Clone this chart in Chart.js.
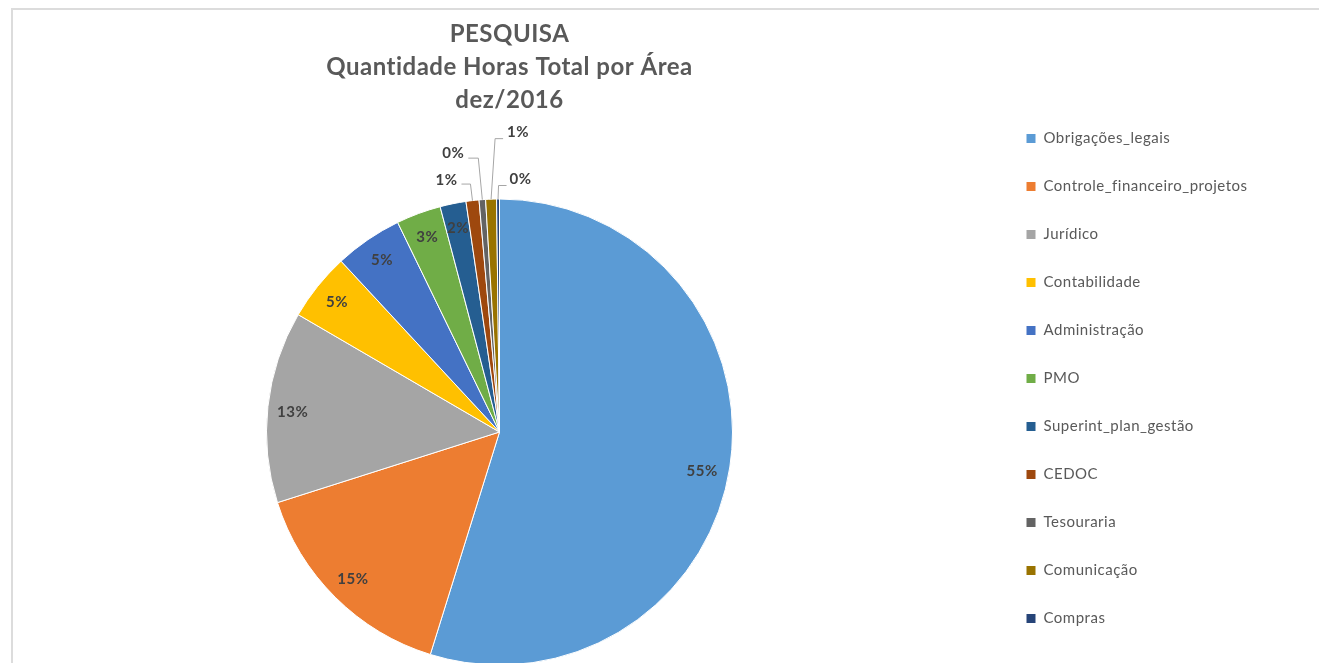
<!DOCTYPE html>
<html>
<head>
<meta charset="utf-8">
<script src="https://cdn.jsdelivr.net/npm/chart.js@4/dist/chart.umd.min.js"></script>
<style>
  html, body { margin: 0; padding: 0; background: #ffffff; overflow: hidden; }
  #wrap { position: relative; width: 1319px; height: 663px; overflow: hidden; }
  #chart { position: absolute; left: 0; top: 0; }
  #frame { position: absolute; left: 11px; top: 8px; width: 1400px; height: 700px;
           border-left: 2px solid #dcdcdc; border-top: 2px solid #dcdcdc; pointer-events: none; }
</style>
</head>
<body>
<div id="wrap">
  <canvas id="chart" width="1319" height="663"></canvas>
  <div id="frame"></div>
</div>
<script>
const titleLines = ['PESQUISA', 'Quantidade Horas Total por Área', 'dez/2016'];
const categories = ['Obrigações_legais', 'Controle_financeiro_projetos', 'Jurídico', 'Contabilidade',
  'Administração', 'PMO', 'Superint_plan_gestão', 'CEDOC', 'Tesouraria', 'Comunicação', 'Compras'];
const shares = [54.8, 15.3, 13.3, 4.7, 4.7, 3.1, 1.8, 0.9, 0.45, 0.75, 0.2];
const sliceColors = ['#5B9BD5', '#ED7D31', '#A5A5A5', '#FFC000', '#4472C4', '#70AD47',
  '#255E91', '#9E480E', '#636363', '#997300', '#264478'];

// Style: outside labels (offsets relative to the slice's outer-edge anchor)
const outsideLabelStyle = {
  7:  { elbow: [-2, -16.5], end: [-11, -16.5], label: [-26, -20.5] },
  8:  { elbow: [-4, -41.5], end: [-14, -41.5], label: [-29, -46.5] },
  9:  { elbow: [4, -60.5],  end: [12, -60.5],  label: [27, -66.5] },
  10: { elbow: [0.5, -13.5], end: [8.5, -13.5], label: [22.5, -19.5] }
};
// Style: small nudges for inside labels
const insideLabelNudge = { 0: [-3, 8], 2: [0, 3] };

const labelFont = 'bold 15px Lato';
const labelColor = '#404040';
const letterSpacing = '0.5px';
const titleShiftX = 10;

const spacingPlugin = {
  id: 'spacing',
  beforeLayout(chart) { chart.ctx.letterSpacing = letterSpacing; },
  afterLayout(chart) {
    const t = chart.titleBlock;
    if (t) { t.left += titleShiftX; t.right += titleShiftX; }
  },
  beforeDraw(chart) { chart.ctx.letterSpacing = letterSpacing; }
};

const dataLabelPlugin = {
  id: 'dataLabels',
  afterDatasetsDraw(chart) {
    const ctx = chart.ctx;
    const meta = chart.getDatasetMeta(0);
    const values = chart.data.datasets[0].data;
    const total = values.reduce((a, b) => a + b, 0);
    ctx.save();
    ctx.font = labelFont;
    ctx.fillStyle = labelColor;
    ctx.textAlign = 'center';
    ctx.textBaseline = 'middle';
    meta.data.forEach((arc, i) => {
      const p = arc.getProps(['x', 'y', 'startAngle', 'endAngle', 'outerRadius'], true);
      const mid = (p.startAngle + p.endAngle) / 2;
      const txt = Math.round(values[i] / total * 100) + '%';
      const st = outsideLabelStyle[i];
      if (!st) {
        const r = p.outerRadius * 0.893;
        const n = insideLabelNudge[i] || [0, 0];
        ctx.fillText(txt, p.x + Math.cos(mid) * r + n[0], p.y + Math.sin(mid) * r + n[1]);
      } else {
        const ax = p.x + Math.cos(mid) * p.outerRadius;
        const ay = p.y + Math.sin(mid) * p.outerRadius;
        ctx.strokeStyle = '#a6a6a6';
        ctx.lineWidth = 1;
        ctx.beginPath();
        ctx.moveTo(ax, ay);
        ctx.lineTo(ax + st.elbow[0], ay + st.elbow[1]);
        ctx.lineTo(ax + st.end[0], ay + st.end[1]);
        ctx.stroke();
        ctx.fillText(txt, ax + st.label[0], ay + st.label[1]);
      }
    });
    ctx.restore();
  }
};

function build() {
  const canvas = document.getElementById('chart');
  const mctx = canvas.getContext('2d');
  mctx.font = '15px Lato';
  mctx.letterSpacing = letterSpacing;
  const maxTextW = Math.max(...categories.map(c => mctx.measureText(c).width));
  const legendPad = 33, boxW = 10, fontSize = 15;
  const legendWidth = legendPad + boxW + fontSize / 2 + maxTextW + 10;
  const legendLeft = 993;
  const padRight = 1319 - legendLeft - legendWidth;

  new Chart(canvas, {
    type: 'pie',
    data: {
      labels: categories,
      datasets: [{
        data: shares,
        backgroundColor: sliceColors,
        borderColor: '#ffffff',
        borderWidth: 1,
        radius: 233
      }]
    },
    options: {
      responsive: false,
      animation: false,
      rotation: 0,
      layout: { padding: { left: 6, right: padRight, top: 0, bottom: 4 } },
      plugins: {
        tooltip: { enabled: false },
        title: {
          display: true,
          text: titleLines,
          fullSize: false,
          color: '#595959',
          font: { family: 'Lato', size: 24, weight: 'bold', lineHeight: 1.375 },
          padding: { top: 18, bottom: 88 }
        },
        legend: {
          position: 'right',
          align: 'end',
          fullSize: true,
          labels: {
            boxWidth: boxW,
            boxHeight: 10,
            padding: legendPad,
            color: '#595959',
            font: { family: 'Lato', size: fontSize }
          }
        }
      }
    },
    plugins: [spacingPlugin, dataLabelPlugin]
  });
}

if (document.fonts && document.fonts.load) {
  Promise.all([document.fonts.load('15px Lato'), document.fonts.load('bold 24px Lato')])
    .then(build, build);
} else {
  build();
}
</script>
</body>
</html>
